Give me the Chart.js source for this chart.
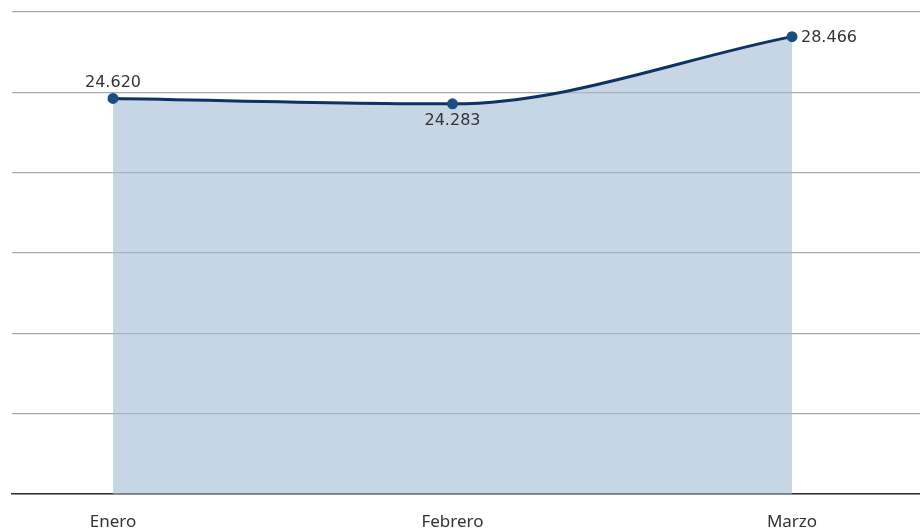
<!DOCTYPE html>
<html>
<head>
<meta charset="utf-8">
<script src="https://cdn.jsdelivr.net/npm/chart.js@4/dist/chart.umd.min.js"></script>
<style>
    html, body { margin: 0; padding: 0; background: #fff; overflow: hidden; }
    canvas { display: block; }
</style>
</head>
<body>
<canvas id="chart" width="920" height="529"></canvas>
<script>
// Data
const months = ['Enero', 'Febrero', 'Marzo'];
const totals = [24620, 24283, 28466];
const yTicks = [0, 5000, 10000, 15000, 20000, 25000, 30000];
const labelPlacement = ['above', 'below', 'right'];

function formatNumber(value) {
    return value.toString().replace(/\B(?=(\d{3})+(?!\d))/g, '.');
}

// Value labels next to each point
const valueLabels = {
    id: 'valueLabels',
    afterDatasetsDraw(chart) {
        const ctx = chart.ctx;
        const meta = chart.getDatasetMeta(0);
        ctx.save();
        ctx.font = '16px "DejaVu Sans", sans-serif';
        ctx.fillStyle = '#333';
        meta.data.forEach((pt, i) => {
            const text = formatNumber(totals[i]);
            const where = labelPlacement[i];
            if (where === 'above') {
                ctx.textAlign = 'center';
                ctx.textBaseline = 'bottom';
                ctx.fillText(text, pt.x, pt.y - 8);
            } else if (where === 'below') {
                ctx.textAlign = 'center';
                ctx.textBaseline = 'top';
                ctx.fillText(text, pt.x, pt.y + 9);
            } else {
                ctx.textAlign = 'left';
                ctx.textBaseline = 'middle';
                ctx.fillText(text, pt.x + 9, pt.y + 1);
            }
        });
        ctx.restore();
    }
};

const ctx = document.getElementById('chart').getContext('2d');
new Chart(ctx, {
    type: 'line',
    data: {
        datasets: [{
            data: totals.map((v, i) => ({ x: i, y: v })),
            borderColor: '#0e3263',
            borderWidth: 3,
            backgroundColor: 'rgba(160, 186, 212, 0.6)',
            fill: 'origin',
            cubicInterpolationMode: 'monotone',
            pointRadius: 4,
            pointBackgroundColor: '#1d4e82',
            pointBorderColor: '#1d4e82'
        }]
    },
    options: {
        responsive: false,
        animation: false,
        layout: { autoPadding: false, padding: { left: 12, right: 0, top: 12, bottom: 0 } },
        plugins: {
            legend: { display: false },
            tooltip: { enabled: false }
        },
        scales: {
            x: {
                type: 'linear',
                min: -0.2975,
                max: 2.377,
                afterBuildTicks: axis => {
                    axis.ticks = months.map((m, i) => ({ value: i }));
                },
                afterFit: axis => {
                    axis.height = 35;
                    axis.paddingRight = 0;
                    axis.paddingLeft = 0;
                },
                grid: { display: false },
                border: { display: true, color: '#333', width: 1.5 },
                ticks: {
                    padding: 10,
                    autoSkip: false,
                    maxRotation: 0,
                    color: '#333',
                    font: { family: '"Noto Sans", sans-serif', size: 17 },
                    callback: value => months[value]
                }
            },
            y: {
                min: 0,
                max: 30000,
                afterBuildTicks: axis => {
                    axis.ticks = yTicks.map(v => ({ value: v }));
                },
                ticks: { display: false },
                border: { display: false },
                grid: { color: '#a8a8a8', lineWidth: 1.2, drawTicks: false }
            }
        }
    },
    plugins: [valueLabels]
});
</script>
</body>
</html>
